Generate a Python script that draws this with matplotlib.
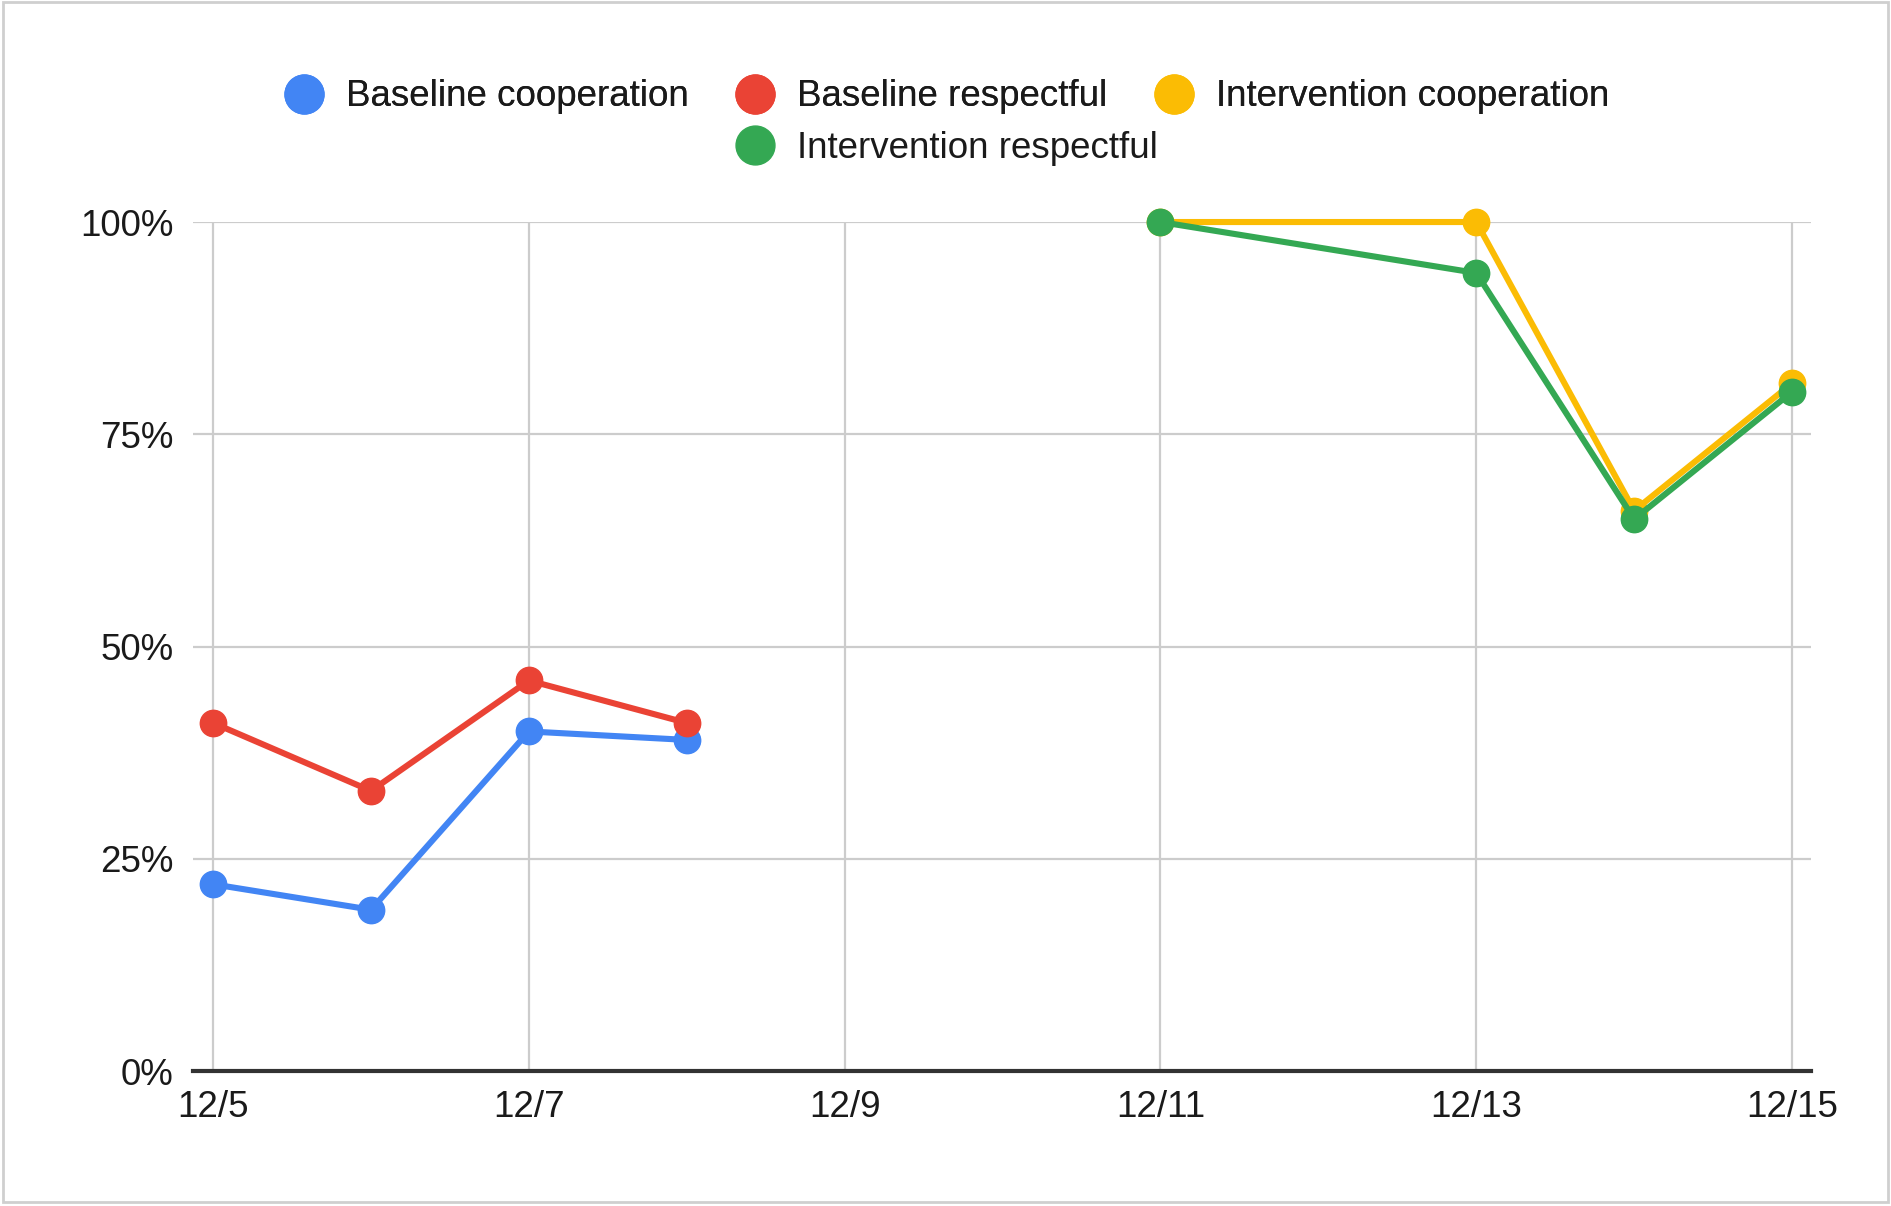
import matplotlib
matplotlib.use("Agg")
import matplotlib.pyplot as plt
from matplotlib.lines import Line2D
from matplotlib.patches import Rectangle

plt.rcParams['font.family'] = ['Liberation Sans', 'DejaVu Sans']

# days in December
base_days = [5, 6, 7, 8]
int_days = [11, 13, 14, 15]

baseline_coop = [22, 19, 40, 39]
baseline_resp = [41, 33, 46, 41]
interv_coop = [100, 100, 66, 81]
interv_resp = [100, 94, 65, 80]

tick_days = [5, 7, 9, 11, 13, 15]
tick_labels = ['12/5', '12/7', '12/9', '12/11', '12/13', '12/15']
y_ticks = [0, 25, 50, 75, 100]
y_labels = ['0%', '25%', '50%', '75%', '100%']

series = [
    ('Baseline cooperation', base_days, baseline_coop, '#4285F4'),
    ('Baseline respectful', base_days, baseline_resp, '#EA4335'),
    ('Intervention cooperation', int_days, interv_coop, '#FBBC04'),
    ('Intervention respectful', int_days, interv_resp, '#34A853'),
]

fig = plt.figure(figsize=(18.91, 12.06), dpi=100)
ax = fig.add_axes([0.1021, 0.1119, 0.9577 - 0.1021, 0.8159 - 0.1119])

for i, (name, xs, ys, col) in enumerate(series):
    ax.plot(xs, ys, color=col, lw=4.4, marker='o', markersize=19,
            zorder=3 + i, clip_on=False, solid_joinstyle='round')

ax.set_xlim(4.873, 15.12)
ax.set_ylim(0, 100)
ax.set_xticks(tick_days)
ax.set_xticklabels(tick_labels)
ax.set_yticks(y_ticks)
ax.set_yticklabels(y_labels)
ax.tick_params(axis='both', length=0, labelsize=26.5, colors='#1a1a1a')
ax.tick_params(axis='x', pad=14)
ax.tick_params(axis='y', pad=14)
ax.grid(True, color='#cccccc', lw=1.6)
ax.set_axisbelow(True)
for s in ['top', 'right', 'left']:
    ax.spines[s].set_visible(False)
ax.spines['bottom'].set_color('#333333')
ax.spines['bottom'].set_linewidth(3)
ax.spines['bottom'].set_zorder(2.5)

# legend: three entries on the first row, one centred below
handles = [Line2D([], [], ls='none', marker='o', markersize=28, color=c)
           for _, _, _, c in series]
names = [s[0] for s in series]
leg1 = fig.legend(handles[:3], names[:3], ncol=3, loc='center',
                  bbox_to_anchor=(0.5, 1 - 97 / 1206), frameon=False,
                  fontsize=26.5, handletextpad=0.55, columnspacing=1.2,
                  handlelength=1.2, labelcolor='#1a1a1a')
leg2 = fig.legend(handles[3:], names[3:], loc='center',
                  bbox_to_anchor=(0.5, 1 - 148 / 1206), frameon=False,
                  fontsize=26.5, handletextpad=0.55, handlelength=1.2,
                  labelcolor='#1a1a1a')
fig.add_artist(leg1)

fig.patches.append(Rectangle((0.0015, 0.003), 0.997, 0.995,
                             transform=fig.transFigure, fill=False,
                             edgecolor='#cfcfcf', lw=2))

fig.savefig('out.png', dpi=100)
